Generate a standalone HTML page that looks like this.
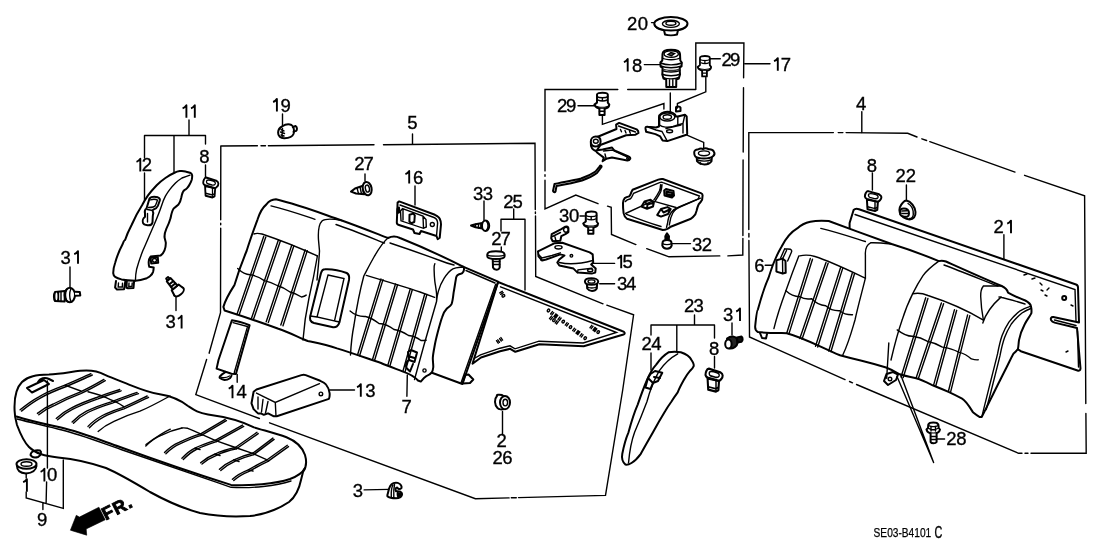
<!DOCTYPE html>
<html><head><meta charset="utf-8"><style>
html,body{margin:0;padding:0;background:#fff;width:1108px;height:553px;overflow:hidden}
svg{display:block;will-change:transform}
text{font-family:"Liberation Sans",sans-serif;font-size:18.5px;fill:#000;stroke:#000;stroke-width:0.35px}
.s{fill:none;stroke:#000;stroke-width:2;stroke-linejoin:round;stroke-linecap:round}
.t{fill:none;stroke:#000;stroke-width:1.4;stroke-linecap:round}
.one{fill:none;stroke:#000;stroke-width:1.9;stroke-linecap:butt;stroke-linejoin:round}
.f{fill:#fff;stroke:#000;stroke-width:2;stroke-linejoin:round}
</style></head><body>
<svg width="1108" height="553" viewBox="0 0 1108 553">
<defs>
<symbol id="clip8" overflow="visible">
<path class="f" d="M2,8.7 L2.6,18.5 L10.1,20.2 L12.4,19.1 L13,11 Z"/>
<path class="f" d="M0.9,2.3 C1.5,0.8 2.3,0.3 3.2,0.3 L14.2,3.5 C15.5,4.2 16.5,5 16.5,6.3 C16.5,7.8 16,8.6 15.3,9.2 C14.6,10 13.8,10.7 13,11 L2,8.1 C1,7.6 0.2,6.8 0,5.8 C0,4.5 0.3,3.3 0.9,2.3 Z"/>
<path class="t" d="M4,3.2 C5,2.4 7,2.6 11,3.8 C12.8,4.4 13.6,5.6 13,6.8 C12.4,7.9 11,8.1 9.5,7.8 L5,6.6 C3.6,6.1 3.2,4.2 4,3.2 Z"/>
<path class="t" d="M2.6,16 L10.2,17.8 L12.4,16.5 M10.1,11 L10.1,20.2"/>
</symbol>
<symbol id="bolt" overflow="visible">
<path class="f" d="M2.6,1.9 C2.6,0.4 5.3,0 8,0 C10.8,0 13.4,0.4 13.4,1.9 L13.4,9.9 L14.9,11.9 C14.8,14.4 11.8,16 8,16.2 C4.1,16 0.8,14.4 0,11.9 L2.6,9.9 Z"/>
<path class="t" d="M2.6,3.9 C4.8,5.4 11.3,5.4 13.4,3.9 M3.8,7.4 C6,8.6 10.5,8.6 12.3,7.4 M8,4.9 L8,7.9" stroke-width="1.3"/>
<path d="M0.6,12.2 C3,14.6 13,14.6 14.4,12.2 L14.6,13 C13,15.8 3,15.8 0.4,13 Z" style="fill:#000"/>
<path class="s" d="M5,16.1 L5,22.2 L10.2,22.2 L10.2,16.1" style="fill:#fff" stroke-width="1.8"/>
<path class="t" d="M5,18.6 L10.2,18.6" stroke-width="1.1"/>
</symbol>
</defs>
<!-- FRAMES (dash-dot) -->
<g class="t" id="frames">
<!-- frame 5 -->
<path d="M220.8,146 L257.4,145.8 M261,145.7 L265.5,145.7 M268.4,145.7 L374,144.8 M383.5,144.7 L535,143.3 L535.3,209.6 M535.4,212 L535.4,213.5 M535.5,216 L535.7,276.5 L603,303.8 M606.8,305.2 L633.6,314.8 L622.7,390 L605.5,495.4 L518.5,497.6 M516.3,497.7 L511.3,497.8 M509.1,497.9 L475.4,498.7 L269.6,422.8 M259.4,418.5 L195.8,394.6 L206.6,359.5 M209.1,353.2 L220.5,312.7 L220.7,228.3 M220.7,223.3 L220.7,224.8 M220.7,219.7 L220.8,146"/>
<!-- frame 17 -->
<path d="M695.8,89.5 L695.8,42.9 L743.9,43 L743.6,77.8 M743.5,87.7 L743.2,152 M743.1,160 L742.9,235.5 M742.9,238.5 L742.8,255 L727.9,255.9 M719.8,255.9 L669,256.8 L646.7,248.7 M635.9,244.6 L611.5,234.5 L611.2,207.3 L607.5,206.2 M598,203.7 L575.8,195 L545,208.8 L545,180.3 M545,176.3 L545,174.8 M545,170.9 L545,89.5 L617.8,89.5 M627.7,89.5 L695.8,89.5"/>
<!-- frame 4 -->
<path d="M748.8,229.6 L748.8,132.6 L833.4,132.6 M838.2,132.6 L842.9,132.6 M846.1,132.6 L907.7,133.3 L917,137 M921.9,138.8 L926.6,140.5 M929.8,141.6 L1015,172.1 M1024.6,175.3 L1084.6,195.8 L1085.8,403.6 M1085.9,413.4 L1086.2,453.3 L1031,453.3 M1028,453.3 L1025,453.3 M1022,453.3 L1018.6,453.3 L856.5,384.5 M852.5,382.8 L849.5,381.5 M845,379.6 L749.5,337 L748.9,240.5 M748.9,237 L748.9,233.5"/>
<!-- leader brackets -->
<path d="M189,120 L189,135.5 M144.5,135.5 L205.5,135.5 M144.5,135.5 L144.5,158 M144.5,173 L144.5,200 M174,135.5 L174,172.5 M205.5,135.5 L205.5,144 M205.5,165 L205.5,177"/>
<path d="M282.5,114 L282.5,126 M412.5,134 L412.5,144 M365,174 L365,181 M415,186 L415,205"/>
<path d="M70,267 L70,288 M176,297 L176,310.5"/>
<path d="M484,201 L484,220 M513.7,209 L513.7,219.2 M501,219.2 L525,219.2 M501,219.2 L501,231 M525,219.2 L525,290"/>
<path d="M593,263.4 L614.6,263.4 M599.7,283.7 L614.6,283.7 M671.5,243.6 L690.5,243.6"/>
<path d="M651.5,22.6 L654.2,22.6 M644.3,64.6 L660.6,64.6 M709.4,58.8 L720.3,58.8 M744.7,63.7 L770,63.7 M578,105.7 L594,105.7"/>
<path d="M861.8,111.6 L861.8,132.6 M872.4,173 L872.4,190 M906.4,185 L906.4,201.5 M1003.9,234.7 L1003.9,259.7 M765.2,265.3 L776.5,265.3"/>
<path d="M694.5,315 L694.5,325 M651,325 L714.5,325 M651,325 L651,335 M651,353 L651,370 M676.8,325 L676.8,351.5 M714.5,325 L714.5,338 M714.5,356.5 L714.5,368 M732,323 L732,335"/>
<path d="M407.3,375 L406.9,396.2 M502.5,411.4 L502.5,434.7 M329.6,390 L354.5,390 M364.1,489.9 L389,489.4 M936,439 L944.6,439"/>
<path d="M888.8,343 L933.6,462.5 M897,376.5 L933.6,462.5"/>
</g>
<!-- CUSHION 9 -->
<g id="cushion">
<path class="f" d="M14.6,410.7 C14,398 16,388 22,382 C28,376 36,375 49,374.6 C60,374 70,372 80,370.8 C88,370 98,371 104.5,374.6 C112,378 120,381 129,384.6 C140,389 150,393 161,394.6 C170,396 180,400 188,406 C194,410 198,413 208,414.4 C220,416 240,420 254,427.4 C262,430 275,433 286.5,437.2 C296,441 302,446 305,455 C307,462 306,468 303,472 L301,480 C299,490 294,498 289,502 C280,508 268,514 250,516 C235,517 215,516 200,513 C185,509 170,503 150,492 C135,483 120,474 106,468 C92,463 75,459 58,457.4 C45,456 36,454 29,447 C23,441 20,433 17,425 C15,418 14.6,414 14.6,410.7 Z"/>
<path class="s" d="M16.5,416.5 C30,421 45,424 61,427.6 C80,432 100,440 120,447 C150,458 190,472 231,484.9 C250,486 275,484 290,479 C298,476 303,472 305,468"/>
<path class="t" d="M17,419 C32,423 47,426 62,430 C82,435 102,443 121,449.5 C152,460 192,474 231,487.3 C252,488.5 276,486 291,481"/>
<g class="t" stroke-width="1.05">
<path d="M20.1,409.8 C26,405 32,400.5 38.9,396.8 C47,392 56,388.5 64.9,385.2 C74,381.5 82,377.5 90.9,373.7 M 21.5,411.1 C 27.4,406.3 33.4,401.8 40.3,398.1 C 48.4,393.3 57.4,389.8 66.3,386.5 C 75.4,382.8 83.4,378.8 92.3,375.0"/>
<path d="M37.4,413.4 C42,409.5 47,406.5 53.3,404 C62,399.5 70,396 79.3,392.4 C88,388.5 96,384 103.9,379.4 M 38.8,414.7 C 43.4,410.8 48.4,407.8 54.7,405.3 C 63.4,400.8 71.4,397.3 80.7,393.7 C 89.4,389.8 97.4,385.3 105.3,380.7"/>
<path d="M56.2,418.4 C60.5,414.5 65,411 70.6,408.3 C79,404 88,400.5 96.6,397.5 C104,394.5 112,392 119.7,389.5 M 57.6,419.7 C 61.9,415.8 66.4,412.3 72.0,409.6 C 80.4,405.3 89.4,401.8 98.0,398.8 C 105.4,395.8 113.4,393.3 121.1,390.8"/>
<path d="M72.1,422 C76,418 81,414 86.5,411.2 C94,407.5 102,404.5 111.1,401.8 C120,398.5 128,395.5 137.1,392.4 M 73.5,423.3 C 77.4,419.3 82.4,415.3 87.9,412.5 C 95.4,408.8 103.4,405.8 112.5,403.1 C 121.4,399.8 129.4,396.8 138.5,393.7"/>
<path d="M88,426.4 C92,422 97,418.5 102.4,415.5 C109,412 116,409.8 122.6,407.6 C131,404 139,400 147.2,396 M 89.4,427.7 C 93.4,423.3 98.4,419.8 103.8,416.8 C 110.4,413.3 117.4,411.1 124.0,408.9 C 132.4,405.3 140.4,401.3 148.6,397.3"/>
<path d="M164.5,452.5 C169,448 174,444.5 179,442.4 C186,439 193,436 200.6,433.8 M 165.9,453.8 C 170.4,449.3 175.4,445.8 180.4,443.7 C 187.4,440.3 194.4,437.3 202.0,435.1"/>
<path d="M181.9,458.3 C186,454 190,450.5 194.9,448.2 C201,445 208,442.5 215.1,440.3 M 183.3,459.6 C 187.4,455.3 191.4,451.8 196.3,449.5 C 202.4,446.3 209.4,443.8 216.5,441.6"/>
<path d="M200.6,462.7 C205,459 210,456 215.1,454 C221,451 228,449 235.3,447.5 M 202.0,464.0 C 206.4,460.3 211.4,457.3 216.5,455.3 C 222.4,452.3 229.4,450.3 236.7,448.8"/>
<path d="M219.4,469.2 C224,465 229,462 233.9,459.8 C240,457 246,455 252.6,453.3 M 220.8,470.5 C 225.4,466.3 230.4,463.3 235.3,461.1 C 241.4,458.3 247.4,456.3 254.0,454.6"/>
<path d="M232.4,479.3 C237,475 243,472 248.3,469.9 C254,466.5 260,463 267.1,459.8 M 233.8,480.6 C 238.4,476.3 244.4,473.3 249.7,471.2 C 255.4,467.8 261.4,464.3 268.5,461.1"/>
<path d="M200.6,433.8 L225.2,419.3 M201.8,435.1 L226.4,420.6 M215.1,440.3 L242.5,425.1 M216.3,441.6 L243.7,426.4 M235.3,447.5 L257.0,432.3 M236.5,448.8 L258.2,433.6 M252.6,453.3 L272.9,438.1 M253.8,454.6 L274.1,439.4 M267.1,459.8 L287.3,445.3 M268.3,461.1 L288.5,446.6"/>
<path d="M98.1,431.4 C103,427 108,424 114,421.3 C122,417.5 131,414 140,411.2 C150,407 160,401.5 170,396"/>
<path d="M145.8,446 C152,440 157,437 161.7,435.2 C168,432 175,429.5 181.9,428"/>
<path d="M232.8,479.5 M146,444.5 C155,438 162,433 170.3,429.2"/>
<path d="M64.9,385.2 L80.8,391 M88,391.7 C93,393 98,394.5 102.4,396 C108,398.5 114,401 119.7,404 L124.1,406.9 M181.9,428 C184,427.8 186,428 187.7,428.3 C192,430 196,432 200.6,433.8 L215.1,440.3 L235.3,447.5 L252.6,453.3 L267.1,459.8 M194.9,448.2 L200,449.5 M215.1,454 L220,455.5 M233.9,459.8 L239,461.5 M248.3,469.9 L253,471"/>
</g>
<!-- tag on cushion -->
<path class="s" d="M27,388 L44,380 L49,384 L32,392.5 Z M38,382 C40,378 45,377 49,379 L53,381"/>
<!-- small clip + grommet 1 -->
<path class="s" d="M30.5,455 C31,451 36,449.5 40,450.5 C42,452 41,455.5 38,457 C35,458 32,457.5 30.5,455 Z"/>
<ellipse class="s" cx="26.5" cy="464" rx="10" ry="4.8"/>
<ellipse class="t" cx="26.5" cy="464" rx="5.5" ry="2.3"/>
<path class="s" d="M17,466 C17,470 20,473 26,473.5 C32,473 36,470 36.5,466"/>
<!-- bracket 1/10/9 -->
<path class="t" d="M26.2,473.5 L26.2,478 M26.2,492 L26.2,497.9 L63.3,508.4 L63.3,459.9 M47.4,381 L47.4,468 M46.6,482 L46.1,503.3 M42.9,503.3 L42.9,509.6"/>
<!-- FR arrow -->
<path d="M98.9,507.2 L105.2,519.8 L86.2,528.9 L86.7,535.2 L70.4,530.2 L76.3,515.3 L79.4,517.1 Z" fill="#000" stroke="#000" stroke-width="0.6" stroke-linejoin="round"/>
<text x="0" y="0" transform="translate(105.8,520.6) rotate(-27)" style="font-weight:bold;font-size:18px;fill:#000;stroke:#000;stroke-width:0.9px;letter-spacing:1px">FR.</text>
</g>
<!-- LEFT ARMREST 12 etc -->
<g id="leftparts">
<path class="f" d="M174,173 C176,172 178,171.3 179.8,171.1 C182,170.9 184,171 185.6,171.5 C187.5,172 189.5,172.5 190.7,173 C191.6,173.6 192,174.3 192.1,175.1 C192.3,176.6 192.1,178 191.8,179.5 C191.4,181 190.8,182.5 190,183.8 C189.2,185.5 188.2,187 187.1,188.1 C186,189.2 185,189.8 184.2,190.3 C183.5,191 183,191.7 182.7,192.5 C182,194 181.6,195.8 181.3,197.5 C180.8,200 180,202.5 178.5,204.5 C177,206 175,207 173.5,208.7 C172,211 171.2,214.5 170.6,218.1 C169.6,221.8 168,225.5 166.3,228.9 C165,232 164.4,235 164.5,237 C164.8,239 165.6,241 165.8,242.7 C165.9,245.5 165.4,248 164.5,250.3 C163.6,252.5 162.3,254.2 160.7,255.4 L150.6,256.6 C149.5,258 148.8,260 148.7,261.7 C148.6,264 148.8,265.5 149.3,266.8 L153.7,267.4 C153.6,269.5 153.5,270.5 153.1,271.8 C152.5,273.5 151.8,274.5 150.6,275.6 C149.5,276.8 148.2,277.6 146.8,278.2 C143,279.5 139,280.5 135.4,280.7 C131,280.6 126,280.3 121.5,279.4 C119,278.8 116.8,278 115.1,276.9 C114,275.8 113.3,274.5 113.2,273.1 C113.3,269 114,266 115.1,263 C117,256 119.5,250 122.7,244 C123.8,241 124.5,240 125.1,240 C127,234 129.5,229 131.6,225 C135,217 139,210 142.2,205 C144,201.5 146,198.3 148,195.4 C150.5,192 153.5,188.5 156.7,185.2 C159.5,182.5 162.5,180 165.4,178 C168.2,176 171,174.3 174,173 Z"/>
<path class="t" d="M190,175.1 C187,176 184.5,177 182,178 C179.5,179.5 177.5,181.2 175.5,183.1 C173.5,185.2 171.5,187.3 169.7,189.6 C168,191.8 166.6,194 165.4,196.1 C164,198.8 162.8,201.8 161.8,205 C159.5,212 156.8,218.5 154,225 C151.8,230 149.6,235 147.5,240 C146,243.5 144.5,247 143,250.3 C140.5,256.5 138.4,262.8 136.6,269.3 C135.8,272.8 135.5,276 135.4,280.7"/>
<path class="s" d="M150.6,257.8 L157.8,257.3 L158.2,262.8 L151.2,263.4 Z" stroke-width="1.3"/>
<ellipse class="t" cx="154.5" cy="260.3" rx="2" ry="1.8"/>
<path class="s" d="M149.5,198.5 C151,196.8 154,196.5 157.8,197.3 C159.5,198 160.2,199 159.8,200.5 L157.8,206 C157,208 155.5,209 153.5,209.4 L152.5,210.5 C153.5,212 153.5,214 152.8,216 L152.5,222.5 C152,224.8 150,225.6 147.5,225.3 C145,225 143.5,224.5 143,223 C142.3,221 143,218 145,216.8 L145,213.5 C144.5,211.5 145,209.5 146.5,208.5 Z" stroke-width="1.4"/>
<path class="t" d="M150.5,199.8 C153,199 156,199.2 157.5,200.2 L155.5,205.5 C154.5,207 152,207.5 148.5,207.5 M147.3,209.5 L151.5,210.3 M147.5,213.5 L147.5,222"/>
<path class="s" d="M116,281 L115.1,287.5 L117,289.6 L124,289.3 L125.3,281.5 M126.8,281 L126.5,287.8 L128,288.3 L133.5,288 L134.1,281" stroke-width="1.4"/>
<path class="t" d="M118.5,283 L118.2,287 L122.3,287 L122.5,283.2 M129,283 L128.8,286.5 L132,286.3 L132.2,283"/>
<!-- clip 8 left -->
<use href="#clip8" transform="translate(203.2,177.2) scale(0.92,1.0)"/>
<!-- bolt 31 left -->
<path class="s" d="M55,292 C53.6,294 53.6,299.5 55,301 L64.7,301.5 L64.7,291 Z" style="fill:#fff"/>
<ellipse class="t" cx="56.5" cy="296.3" rx="1.8" ry="4.6" style="fill:#fff"/>
<path class="t" d="M58.5,292 L58.5,301 M61,291.5 L61,301.5"/>
<ellipse class="s" cx="69.8" cy="295" rx="5.2" ry="7.2" style="fill:#fff"/>
<path class="t" d="M67,289 C65,292 65,298 67,301.5 M71,288.5 C69.5,292 69.5,298 71,302"/>
<path class="s" d="M75,291.8 L79.8,292 L80.3,295.5 L75,295.7" style="fill:#fff"/>
<!-- bolt 31 mid -->
<g transform="translate(179,292) rotate(-130)">
<ellipse class="s" cx="0" cy="0" rx="3" ry="5.8" style="fill:#fff"/>
<path class="s" d="M0,-5.8 L6,-4.5 L6,4.5 L0,5.8" style="fill:#fff"/>
<path class="s" d="M6,-3 L16,-2.5 L16,2.5 L6,3 Z M9,-3 L9,3 M12,-2.8 L12,2.8 M16,-1.5 L18.5,-1.2 L18.5,1.2 L16,1.5" style="fill:#fff"/>
</g>
<!-- bolt 19 -->
<path class="s" d="M282,126.5 C285,124.5 289,124 291.5,125 C294,126.5 294.5,131 293.5,134 C292.5,136.5 289,138 284.5,138.3 C280.5,138.5 278,136 278.1,132.5 C278.2,129.5 279.5,127.8 282,126.5 Z" style="fill:#fff"/>
<path class="s" d="M292.8,127.2 L295.6,126 C297.2,127 297.4,129.7 296.1,130.9 L293.6,131.6" stroke-width="1.4"/>
<path class="t" d="M281,129.5 L284,131 M280.5,132 L284.5,133.5 M281,135 L284,136 M282.5,128.5 L282,137" stroke-width="0.9"/>
<!-- screw 27 top -->
<path class="s" d="M364.4,185.2 L355,188.5 L351,191.6 L356,193.5 L364.4,194.2 Z" style="fill:#fff" stroke-width="1.4"/>
<path class="t" d="M357,187.8 L358.5,193.6 M360,186.8 L361.5,194 M362.5,186 L363.5,194.2" stroke-width="1"/>
<ellipse class="s" cx="367.2" cy="188.6" rx="4.4" ry="6.8" transform="rotate(-12 367.2 188.6)" style="fill:#fff"/>
<ellipse class="t" cx="367.4" cy="188.6" rx="2" ry="3.6" transform="rotate(-12 367.4 188.6)"/>
<!-- bracket 16 -->
<path class="s" d="M397.6,202.6 L399.2,201.4 L434.9,214.8 C437.5,216 439.2,217.3 439.7,218.8 C440.8,221 441.1,222.8 441,224.3 L439.7,237.8 L437.7,239.2 L436.5,236 L421,231 L419.5,234 L414.5,233 L413,229.5 L399,225 C397.5,224.6 396.8,223.8 396.8,222.5 Z" style="fill:#fff"/>
<path class="t" d="M400,205 L434,217.5 C436.5,218.5 437.5,220.5 437.6,223 L436.6,235"/>
<path class="t" d="M400.5,211 L402.5,208.6 L423,216.2 L426,219.5 L426.3,227 L423.5,228.3 L401,220.8 Z M403,209.5 L403,220 M423,216.2 L423.5,228.3"/>
<path class="s" d="M409.5,214.8 L413.3,213.6 L414.8,215.3 L414.3,222 L411.3,223.2 L409.4,221.4 Z" stroke-width="1.3"/>
<circle class="t" cx="432.3" cy="224.5" r="2"/>
<path class="s" d="M397.5,209 L399,207.5 L399.5,212 L397.5,213 Z" stroke-width="1.2" style="fill:#000"/>
</g>
<!-- SEAT BACK 5 -->
<g id="seatback5">
<!-- side board + triangle panel -->
<path class="f" d="M498.1,282 L622,331 C625,332 625.5,333.5 623.5,334.5 L583.7,346.3 L539.3,344.2 L515.3,351.8 L510.2,348.8 L500.1,351.2 L481,357.5 L472.5,363.7 Z"/>
<path class="t" d="M500.5,286.8 L616.5,332.5 L583.2,343 L539,341.2 L515,348.8 L510,345.8 L500,348.2 L480.5,354.8 L475,358"/>
<path class="f" d="M463,266.6 L498.1,281.6 L462.4,384 L432.6,373 L430,371 L434,340 L440,305 L450,278 Z"/>
<path class="t" d="M466,270.5 L495,283 M495.6,284.5 L461,383"/>
<path class="s" d="M465,375 L462.5,383.5 L470,383 L473.3,379.5 L468.5,374.5 Z"/>
<g class="t" stroke-width="0.75">
<ellipse cx="548.5" cy="310.5" rx="1.1" ry="1.5" transform="rotate(37 548.5 310.5)"/>
<path d="M552.4,311.6 L550.6,314.0"/>
<path d="M553.7,312.6 L551.9,314.9"/>
<rect x="554.7" y="314.4" width="2.2" height="3.2" transform="rotate(37 555.8 316.0)" style="fill:#000"/>
<path d="M559.8,317.1 L558.0,319.5"/>
<path d="M561.1,318.1 L559.3,320.5"/>
<ellipse cx="563.2" cy="321.6" rx="1.1" ry="1.5" transform="rotate(37 563.2 321.6)"/>
<path d="M567.1,322.7 L565.3,325.1"/>
<path d="M568.4,323.6 L566.6,326.0"/>
<ellipse cx="570.5" cy="327.1" rx="1.1" ry="1.5" transform="rotate(37 570.5 327.1)"/>
<path d="M574.5,328.2 L572.7,330.6"/>
<path d="M575.8,329.2 L574.0,331.6"/>
<rect x="576.8" y="331.0" width="2.2" height="3.2" transform="rotate(37 577.9 332.6)" style="fill:#000"/>
<path d="M581.8,333.7 L580.0,336.1"/>
<path d="M583.1,334.7 L581.3,337.1"/>
<ellipse cx="585.2" cy="338.2" rx="1.1" ry="1.5" transform="rotate(37 585.2 338.2)"/>
<path d="M551.3,316.3 L549.5,318.7"/>
<path d="M552.5,317.3 L550.7,319.7"/>
<ellipse cx="553.9" cy="320.2" rx="1.1" ry="1.5" transform="rotate(37 553.9 320.2)"/>
<path d="M557.0,320.7 L555.2,323.0"/>
<path d="M558.3,321.6 L556.5,324.0"/>
<path d="M591.8,325.3 L590.0,327.7"/>
<path d="M593.0,326.3 L591.2,328.7"/>
<rect x="593.8" y="327.9" width="2.2" height="3.2" transform="rotate(37 594.9 329.5)" style="fill:#000"/>
<ellipse cx="598.2" cy="332.1" rx="1.1" ry="1.5" transform="rotate(37 598.2 332.1)"/>
<path d="M502.3,291.3 L499.8,292.9"/>
<path d="M503.2,292.7 L500.7,294.3"/>
<ellipse cx="503.4" cy="295.8" rx="1.1" ry="1.5" transform="rotate(58 503.4 295.8)"/>
<path d="M496.5,340.7 L498.2,343.2"/>
<path d="M497.8,339.8 L499.5,342.3"/>
<path d="M499.6,338.6 L501.3,341.0"/>
<path d="M500.9,337.6 L502.6,340.1"/>
</g>
<!-- main seat back outline -->
<path class="f" d="M275.9,199.3 C300,205 320,213 341.8,220.5 C360,227 375,233 388,238 C392,236 396,236 400,238 C420,246 440,255 463,266.6 C464.5,267.5 464.5,271 462.3,273.1 C461,274 459.5,274 458.7,274.5 C457,275 456,277 455.8,279.6 C455,284 454.5,288 453.6,292.6 C453,298 452.5,302 451.5,304.2 C450,306.5 448,307.5 446.5,309 C444.5,311 443,314 442,317.5 C440.5,322 439,327.5 437.8,332 C436.5,337 435.5,341 434.8,345 C434,349.5 433,354 432.8,358 C432.8,361 433.3,364 433.3,367 C433,370 432.5,371.5 431.7,372.5 C430,374.5 428,375.5 426.3,376.2 C424,377.5 422.5,379.5 420.8,381.6 L418,380.5 C415,377 410,374 403,371.6 C395,368.5 388,366 381,363 C366,358 352,353 337,348.4 C327,345 317,343 307.7,341 C298,337 288,332 278.4,328.8 C260,322 242,316 224.6,310.5 L223.4,306.9 C226,298 230,292 234.4,285.2 C238,273 242,262 246.6,251 C250,240 254,229 257.6,219.3 C260,212 262,208 266.2,204.6 C269,201 272,199.5 275.9,199.3 Z"/>
<!-- left seat inner lines -->
<path class="t" d="M271,205.9 C288,210 302,215 315,219.3"/>
<path class="t" d="M341.8,220.5 C334,219 326,218 322,221 C318,225 318,232 318.5,240 L319.5,251 C319,260 318,270 317,280"/>
<path class="t" d="M254,234 C256,233 258,233 262,234 C280,240 300,248 317.4,256"/>
<path class="t" stroke-width="1" d="M237.7,268.5 Q244,274.5 250.2,274.8 Q258,276 264.3,280.6 Q271,282 277.2,285.5 Q284,287.5 290,292 Q296,293.5 301.5,297 Q304.5,296.5 306.2,295.1"/>
<path class="t" stroke-width="0.95" d="M263.7,236.4 L236.9,314.5 M265.8,237 L239,315.2 M278.4,240 L251.5,318.2 M280.5,240.7 L253.6,319 M291.8,245 L266.2,321.8 M293.9,245.8 L268.3,322.6 M305.2,249.8 L280.8,325 M307.3,250.6 L283,325.8"/>
<path class="t" d="M317.4,256 C315,270 312,285 309,298 C306,312 304,326 303,340"/>
<path class="t" d="M336,224.5 C352,230 368,236.5 384.5,243"/>
<!-- armrest recess -->
<path class="s" d="M324.7,269.3 C330,269 340,270.5 346.7,273 C349.5,274.5 349.5,277 349,280 L339.5,322 C338.5,326 336,328 332,327 L314,323 C310,322 309.5,319 310.3,316 L321,273 C321.8,270.5 323,269.3 324.7,269.3 Z"/>
<path class="t" d="M328,275 L344,278.5 L334.5,321 L317,317 Z M310.3,316 L317,317 M339.5,322 L334.5,321"/>
<!-- right seat -->
<path class="t" d="M388,238 C383,242 378,250 374,257 C370,264 367,270 363.8,276 C360,290 357,305 354,325 C352,335 351,345 350.5,355"/>
<path class="t" d="M390,243 C408,249 425,255 440,260.5 C446,263 450,264 454,265"/>
<path class="t" d="M366.25,275.4 C385,281 405,287 420,292 L434.6,297.4"/>
<path class="t" d="M463,267 C459,267.5 456,267.5 452.9,268.8 C449,271 446.5,274.5 444.2,278.2 C441.5,282.5 439.5,287 438.4,291.1 C437.3,295 436.8,298 436.6,301.3 L424,345 L414.5,379.5 M434.8,263.7 C434,265.5 433.9,267.5 434.1,269.5 C434.2,273 434.3,277 434.8,281.1 C435.4,285.5 436.3,290 436.6,294.1 L436.6,301.3"/>
<path class="t" stroke-width="0.95" d="M380.9,279 L357.5,355 M383,279.6 L359.6,355.8 M395.5,284 L372.5,359.5 M397.6,284.7 L374.6,360.2 M410.2,289 L388,364.6 M412.3,289.7 L390.1,365.3 M424.8,293.8 L403,371 M426.9,294.5 L405.1,371.7"/>
<path class="t" stroke-width="1" d="M350.1,311 Q357,317 365.5,316.5 Q372,318 379,323.5 Q387,324 394,329.5 Q401,330.5 408.5,335.5 Q415,336 421,340.5 Q424,340.5 426.2,340.2"/>

<!-- clip 7 -->
<path class="s" d="M408,352 L411,350 L417,352.5 L414.5,362 L409,360 Z M409,360 C406,361 405.5,365 406.5,368 L410,371.5 L413,364 M408,356 L414.5,358"/>
<circle class="t" cx="424.5" cy="370.5" r="1.6"/>
<!-- panel 14 -->
<path class="s" d="M231.9,320.3 C238,321 244,323 249.6,325.3 L235.9,374 L231.5,373.7 L225.6,371.8 L216.6,368.6 L218.5,360 Z"/>
<path class="t" d="M233,322.6 L247.5,326.6 L234.3,372.5" stroke-width="1.1"/>
<path class="s" d="M225.6,371.8 C223,373.5 221,375 220.1,376.2 C219.5,377 219.4,377.5 219.6,377.8 C221,379 222.5,379.7 224.5,380 C226.5,380 228.5,379.3 229.9,378.3 C230.8,377.3 231.3,376.5 231.5,375.6" stroke-width="1.7"/>
<path class="t" d="M221.5,377.3 C224,378 227,377.5 229.5,376" stroke-width="0.9"/>
<path class="t" d="M237.2,374.5 L237.2,382.3"/>
<!-- box 13 -->
<path class="f" d="M253.6,391.7 L256.5,389.5 L301.4,375.1 C303,374.7 304.5,374.7 305.7,375.1 L320.2,380.8 C323,382 325,383 326,384.5 C328,387 329.3,390 329.6,393.1 C329.8,395.5 329.6,397.5 328.9,398.9 L276.8,416.3 L273.9,416.3 L268.1,413.4 L263.8,414.8 L260.9,413.4 L258,413.4 L253.6,409.1 L251.5,403.3 Z"/>
<path class="t" d="M256.5,393.1 L275.3,402.5 L319.5,383.7 M275.3,402.5 L276,416.3 M258,397 L258,409 M263,399.5 L261.5,412 M268,401.5 L265.5,413"/>
<circle class="t" cx="320.9" cy="393.9" r="1.8"/>
</g>
<!-- CENTER PARTS -->
<g id="center">
<!-- washer 20 -->
<path class="s" d="M664,30 L665,34.5 C668,35.5 674,35.5 677,34.5 L678,30"/>
<ellipse class="f" cx="670.9" cy="23.8" rx="16.6" ry="6.8"/>
<ellipse class="t" cx="670.9" cy="23.8" rx="8.5" ry="3.6"/>
<ellipse class="t" cx="670.9" cy="23.3" rx="5" ry="2"/>
<path class="t" d="M654.5,24.5 C655,27 658,29.5 664,30.5 M687.2,24.5 C687,27 684,29.5 678,30.5"/>
<!-- part 18 -->
<path class="f" d="M662.5,54 C662.5,51 666,49.8 671,49.8 C676,49.8 680,51 680,54 L680.3,60.5 L681.8,62.5 L681.5,66.5 L679.8,67.5 L679.8,71 L680,74.5 L678.8,78.5 L676.3,79.5 L676.2,87 L666.3,87 L666.2,79.5 L663.5,78.5 L662.3,74.5 L662.5,71 L662.5,67.5 L660.6,66.5 L660.4,62.5 L662.3,60.5 Z"/>
<ellipse class="t" cx="671.2" cy="54" rx="7.2" ry="3.3" stroke-width="1.3"/>
<path class="t" d="M668,54.5 L671,52.5 L674.5,53.5 L671.5,55.8 Z" stroke-width="1.2" style="fill:#555"/>
<path class="t" d="M662.4,58 C666,60.3 676,60.3 680.1,58 M660.6,63 C666,65.5 676,65.5 681.7,63 M660.8,66 C666,68.3 676,68.3 681.5,66 M662.5,70.5 C666,72.5 676,72.5 679.8,70.5 M662.4,74.2 C666,76.2 676,76.2 680,74.2 M663.5,77.5 C667,79.3 675,79.3 678.8,77.5 M669.5,79.5 L669.5,87 M672.8,79.5 L672.8,87" stroke-width="1.3"/>
<path d="M663,68.5 C667,70.3 675,70.3 679.5,68.5 L679.5,70 C675,71.6 667,71.6 663,70 Z" style="fill:#333"/>
<!-- bolt 29 top -->
<use href="#bolt" transform="translate(697.6,56) scale(0.91,0.92)"/>
<!-- bolt 29 left -->
<use href="#bolt" transform="translate(594.4,92.7) scale(1.0,1.0)"/>
<!-- leader lines inside 17 -->
<path class="t" d="M705.8,77.5 L705.8,91.8 L677.4,103.5 L677.4,108 M670.3,93 L670.3,112.5 M602.4,115.3 L602.4,124.3 L663.9,103.5 L663.9,109 M684.7,134.2 L703.7,142.4 L703.7,150.5"/>
<!-- lock body -->
<path class="f" d="M645.5,128.5 C645.3,127 646.5,126.5 648,126.8 L656,127.5 L659,126.5 L659,117 C659,114 663,111.8 667.3,111.8 C671.5,111.8 675.5,113.5 676,116.5 L677.8,116.5 L684.9,114.7 L686.7,116.5 L687.2,134.1 L684.9,135.3 L667.3,141.1 L662.6,140.5 L660.2,136.4 L655.5,134.1 L646.1,131.7 Z"/>
<ellipse class="t" cx="667.3" cy="117" rx="7.5" ry="4"/>
<ellipse class="t" cx="667.3" cy="117" rx="4.2" ry="2.2"/>
<path class="t" d="M659.6,117.5 L659.6,125 C662,127.5 668,127.8 673,126.5 L677.8,125 L677.8,116.5 M677.8,125 L683,123.5 L684.9,114.7 M683,123.5 L683,133 M648,127 L656,130 L662,131.5 M662,131.5 L667.3,141.1 M666,128.5 L681,125"/>
<ellipse class="t" cx="669.6" cy="131.3" rx="3" ry="1.5"/>
<path class="s" d="M676,107.5 C676,106 680,106 680.5,107.5 L680.5,111 L676,111.5 Z"/>
<!-- lever -->
<path class="f" d="M595.6,150.5 L602.6,149.4 L612,147.5 L614.4,150.5 L628.5,156.4 C630,157 630.6,158 630.2,158.8 C629.6,160 628.5,160.6 627.3,160.5 L612,157.6 L606.2,158.8 L602.6,161.1 L603.8,157.6 L597,152.5 Z"/>
<path class="t" d="M603.5,151 L612.5,150 L627,156.8 M605,154 L606.2,158.8"/>
<circle class="t" cx="627.6" cy="158.3" r="0.9"/>
<path class="f" d="M596,137.5 L616.5,129 L616.1,124.7 L619.1,122.9 L636.7,129.4 C638,130.3 638.6,131.6 638.5,132.9 L635.5,134.7 L626.1,135.3 L599,145.5 Z"/>
<path class="t" d="M618.5,126 L635.5,132 M620.5,129.5 L621.5,131.8 M625,130.5 L626,133 M629.5,131 L630.3,133.3"/>
<path class="f" d="M590.8,141.5 C590.8,138.5 593,136.6 595.8,136.6 C598.6,136.6 600.6,138.5 600.6,141.5 C600.6,144.5 598.6,146.6 595.8,146.6 C593,146.6 590.8,144.5 590.8,141.5 Z M590.8,141.5 L591,146 C592,149 594,150.8 596.5,150.8 L600.5,145"/>
<ellipse class="t" cx="595.8" cy="141.3" rx="2.4" ry="2"/>
<!-- nut (hex) -->
<path class="f" d="M696.5,155.5 L697,161.2 C699,163.6 702,164.4 704.5,164.4 C707.5,164.4 710,163.6 711.5,161.2 L712,155.5 Z"/>
<path class="f" d="M694.2,152.8 C694,150.5 696,149.3 698,149.5 C699.5,148.6 701.5,148.4 703,149 C704.5,148.2 707,148.3 708.5,149.2 C710.5,149 713,150 713.8,151.5 C714.8,153 714.5,155 713,156.2 C711,157.8 707,158.5 704,158.5 C700.5,158.5 697,157.8 695.3,156.5 C694.5,155.5 694.2,154 694.2,152.8 Z"/>
<ellipse class="t" cx="704" cy="153.3" rx="5.6" ry="2.4" stroke-width="1.3"/>
<path class="t" d="M697.5,159.8 C700,161.5 708.5,161.5 711,159.8 M700.5,162.8 L700.5,164 M708,162.8 L708,164" stroke-width="1.2"/>
<!-- rod -->
<path class="s" d="M553,191 L554.5,184 C565,181.5 575,180 581,178.5 C587,176.5 592,174 595.5,171.5 L599.5,166.5 C600.5,165 602,165.5 601.5,167 L597,173 C593,176 588,178.5 582,180.5 C575,182.5 565,184.5 556.5,186 L555.5,191.5 C555,192.5 553.5,192.5 553,191 Z"/>
<!-- tray -->
<path class="f" d="M631.4,191.9 L632.6,189.7 L658.3,179.6 C660,179 661.5,178.8 662.8,179 L700.9,193.1 C702,193.6 702.6,194.3 702.6,195.3 L702.1,199.8 C701.2,201.5 700,203 698.7,204.3 C697.6,206.5 697,209 696.5,211 L695.3,214.3 C694,216 692.5,217.6 690.9,218.8 L670.7,226.7 C669.5,227.5 668.4,228.3 667.3,228.9 C665.8,229.6 664.3,230 662.8,230 L627,218.8 C625.2,217.5 624,215.5 623.6,213.2 C623.2,209.8 622.9,206.5 623,203.1 C623.1,201 623.7,199.3 624.7,198.1 C626,197.3 627.6,196.8 629.2,196.4 C630.3,195 631,193.5 631.4,191.9 Z"/>
<path class="t" d="M625.3,201.5 C626.5,200 628.5,199.3 630.5,198.8 C631.8,197.3 632.5,195.5 633.6,193.3 L659.5,182.6 C661,182.2 662,182.2 663,182.6 L699.3,196 L698.4,198.8 L679,207 C675.5,208.3 673,210 671.2,212.5 C669,215.5 668,219.5 667.5,223.5 L666.5,227.2" stroke-width="1.05"/>
<path class="t" d="M700.5,198.2 L681,206.5 C677,208 674.5,210 672.8,213 C670.8,216.5 669.8,220.5 669.3,225" stroke-width="1.05"/>
<path class="t" d="M625.5,213.5 L652.7,200.9 L676,207.5 M626.5,214.3 C636,218 648,222.5 661,226.5" stroke-width="1.05"/>
<path class="t" d="M660.6,184.6 C660.5,187 660.2,189 659.5,190.8 C658,194 656,197 653.9,199.8 M662,184.8 C661.9,187.5 661.4,189.8 660.8,191.5 C659.5,194.5 657.5,197.5 655.5,200.5" stroke-width="0.95"/>
<path class="s" d="M641.5,206.5 L644.5,201.5 L650.5,199.8 L653.9,202.5 L653,206.5 L647,208.7 Z M644.5,201.5 L647.5,204.5 L653.9,202.5 M647.5,204.5 L647,208.7" stroke-width="1.3"/>
<path class="s" d="M657.2,215 L661,209 L667.5,207.1 L670.7,209 L668,214 L661,216.6 Z M661,209 L663.5,212.5 L670.7,209" stroke-width="1.3"/>
<path class="s" d="M664.2,190.5 L666,189 L673.5,191 L674,195.5 L672,197.5 L664.5,195.5 Z M666.5,191.5 L672,193 L672,195.5 L666.5,194 Z" stroke-width="1.2"/>
<!-- bolt 30 -->
<use href="#bolt" transform="translate(583.2,211.6)"/>
<path class="t" d="M580,216 L584.5,216"/>
<!-- bracket 15 -->
<path class="f" d="M538,251.4 L554.2,243.3 L562.3,242.8 L589.7,252.4 L592.7,254.4 L593.2,262.5 L591.2,264.5 L595.7,268.6 L595.2,272.6 L591.7,273.6 L577.5,272.6 L573.5,268.6 L559.3,265.5 L557.3,262.5 L559.3,259.5 L564.4,255.4 L560.3,254.4 L552.2,257.4 L546.1,259.5 L542.1,260.5 L538.5,256.4 Z"/>
<path class="t" d="M538.5,254.5 L542,258 L552,255.5 L560.3,252.8 M559.3,262.5 C568,264.5 580,264 592.7,260.5 M577.5,272.6 L578,269.8 L592,268.2 M541,260.3 L541,257.8" stroke-width="1.1"/>
<ellipse class="t" cx="558.5" cy="247.3" rx="3.6" ry="1.7"/>
<circle class="t" cx="571.4" cy="255.8" r="1.3"/>
<ellipse class="t" cx="590.2" cy="270.3" rx="2.6" ry="1.5"/>
<path class="f" d="M551.7,234.1 L561.3,229.1 L565.4,226.6 C567,226 568,226.8 568.4,228.1 L568.4,232.1 L565.4,234.1 L561.3,236.2 L560.3,240.7 L552.7,241.2 L551.2,238.2 Z" stroke-width="1.7"/>
<circle class="t" cx="566" cy="229.8" r="2.4"/>
<path class="t" d="M552.5,236.5 L560.5,232.5 M555,237 L556,241" stroke-width="1"/>
<!-- nut 34 -->
<path class="f" d="M586.8,283 L587.2,288.5 C588.5,290.3 590.3,291 592,291 C594,291 595.8,290.3 596.8,288.5 L597.2,283 Z"/>
<path class="f" d="M584.9,281.6 C584.9,279.5 588,278.2 591.5,278.2 C595,278.2 598.2,279.5 598.2,281.6 C598.2,283.6 595,284.8 591.5,284.8 C588,284.8 584.9,283.6 584.9,281.6 Z"/>
<ellipse class="t" cx="591.5" cy="281.5" rx="3.5" ry="1.6" stroke-width="1.2"/>
<path class="t" d="M587.5,287 C589.5,288.3 594,288.3 596.5,287" stroke-width="1.1"/>
<!-- screw 33 -->
<path class="s" d="M482.4,223.1 L475.5,224.2 L471,225.5 L475.5,227.2 L482.4,228.6 Z" style="fill:#fff" stroke-width="1.4"/>
<path class="t" d="M475.5,224.2 L475.5,227.2 M478.5,223.7 L478.5,228 M480.8,223.4 L480.8,228.3" stroke-width="1"/>
<ellipse class="s" cx="485.6" cy="225.8" rx="3.6" ry="5.3" style="fill:#fff"/>
<path class="t" d="M486.5,221.5 C488.5,223 488.5,228.5 486.5,230"/>
<!-- clip 27 (lower) -->
<path class="s" d="M492.7,258.4 L493,267.5 C494.5,270.5 498.5,270.5 499.7,267.5 L499.7,258.4" style="fill:#fff"/>
<path class="t" d="M493,261.5 L499.7,261.5 M493,264.5 L499.7,264.5" stroke-width="1"/>
<path class="s" d="M487.3,254.5 C487.3,252.2 491,251.2 495.9,251.2 C500.8,251.2 504.6,252.2 504.6,254.5 L504.6,256.2 C504.6,258 500.8,259 495.9,259 C491,259 487.3,258 487.3,256.2 Z" style="fill:#fff"/>
<path class="t" d="M487.5,255 C489,256.5 502.5,256.5 504.3,255" stroke-width="1"/>
<path class="t" d="M501.3,247 L501.3,251.3"/>
<!-- part 32 -->
<path class="s" d="M667,233.3 L665.3,236.2 L665.5,240 L668.8,240 L669,236.2 Z M665.4,236.6 L668.9,236.2 M665.5,238.3 L668.9,238" stroke-width="1.3" style="fill:#fff"/>
<path class="s" d="M662.5,243 C662.5,240.8 665,240 667,240 C669,240 671.5,240.8 671.5,243 L671.7,245.5 C671,247.8 669,248.7 667,248.7 C665,248.7 663,247.8 662.3,245.5 Z" style="fill:#fff"/>
<path class="t" d="M662.5,243.5 C664.5,245 669.5,245 671.5,243.5" stroke-width="1"/>
<!-- grommet 2 -->
<path class="s" d="M497,396 C496,394.8 499,394.3 502,395 L504.5,396.5 L505,408.5 C502,410 498.5,409.5 497.5,408 C494.5,405 494,399 497,396 Z" style="fill:#fff"/>
<ellipse class="s" cx="505" cy="402.6" rx="5" ry="6.6" style="fill:#fff"/>
<ellipse class="t" cx="505.3" cy="402.6" rx="2.3" ry="3.3"/>
<!-- part 3 -->
<path class="s" d="M388,492.9 C388.5,490 389,488 390.2,485.9 C391,484.5 392,483.6 393.4,483.1 C395,482.6 396.5,482.6 397.7,482.9 C399.3,483.4 400.5,484.3 401,485.3 C401.6,486.3 401.7,487.2 401.5,488 C400.8,488.9 399.8,489.2 398.8,489.1 C398,488.9 397.6,488 397.2,487.5 C396.5,487.6 395.9,488 395.6,488.6 C395.4,489.6 395.6,490.6 396.1,491.3 C397.6,491.4 399.2,491.3 400.5,491.8 C401.5,492.4 402,493.1 402.1,494 C402.1,495.5 401.5,496.5 400.5,497.2 C399,498 397.5,498.3 396.1,498.3 C394.2,498.3 392.3,498.2 390.7,497.8 C389.3,497.4 388.1,496.9 387.4,496.2 C387.3,495 387.6,494 388,492.9 Z" style="fill:#fff" stroke-width="1.5"/>
<path class="t" d="M392.8,485 C391.5,488 391,492 391.3,497 M394.5,484.5 C393.8,488 393.5,492 393.8,497.8" stroke-width="0.9"/>
<path d="M397,492 C399,491.8 401,492.5 401.6,494 C401.6,496 400,497.5 397.5,497.6 C396.5,496 396.3,493.5 397,492 Z" style="fill:#000"/>
</g>
<!-- RIGHT PARTS -->
<g id="right">
<!-- panel 21 -->
<path class="f" d="M853.6,210 C855,208.5 857,208.5 859,209.2 L1076,284.5 C1077.5,285 1078,286 1078,287.5 L1079,322.5 L1053.3,317 C1051,316.8 1050.3,318.5 1051.2,320.3 C1052,321.8 1053,322.3 1054.5,322.6 L1077,328 L1080.5,368.5 C1080.5,370.5 1079,371 1077.5,370.5 L1020.8,351.2 L849.6,240 L849.6,223 Z"/>
<path class="t" d="M855,214.5 L1075,289.5 L1076,321 M1077.5,331 L1078.5,367 M1054.5,320 L1076,325.5"/>
<circle class="s" cx="1064.2" cy="298" r="2"/>
<g class="t" stroke-width="0.8"><path d="M1024,275 L1027,274 M1032,279 L1035,278 M1040,283 L1042,285 M1047,290 L1049,288 M1041,290 L1043,291 M1045,295 L1047,296 M1071,305 L1073,306 M1066,352 L1068,351"/></g>
<!-- seat back 4 -->
<path class="f" d="M810.3,221.8 C816,220.5 822,220.5 828.7,221 C850,229 870,236 891.6,244 C908,249 924,255 938.8,261.1 C941,260.5 943,260.5 946,261.5 C965,270 985,279 1001.7,286 C1006,288 1007.5,290.5 1008,292.6 C1014,296 1020,298.5 1025.3,300.5 C1029,302.5 1030.8,304 1031,306.5 C1031.6,309 1031.6,311 1031.4,313.1 C1029.5,317 1026.5,320.5 1024.7,324.3 C1022,329.5 1020,335 1019,340.1 C1018.5,343.5 1018.5,346.5 1017.9,349.2 C1016.5,351 1015,352.2 1013.4,353.7 C1011,358 1009,362.5 1006.6,367.2 C1004.3,371.7 1002,376.3 999.8,380.8 C997.5,385.3 995.3,389.8 993.1,394.3 C990.8,398.8 988.6,403.4 986.3,407.9 C984.8,411 983.3,414 981.8,416.9 L979.8,417.1 C976,415 975,414 973,412.3 C969,406 966,401 962.1,398.7 C957,396 952,393.5 948.5,391.9 C942,389 937,387 932.3,385.1 C926,382 921,379.5 916,378.3 C910,377 905,376 899.7,374.3 C895,371.5 890,369 886.1,367.5 C878,365 869,362.5 861.7,360.7 C854,359 846,357 840,355.3 C822,348 805,338 786.7,333.2 C776,333 766,333 757.9,332 C755,330.5 755,328 755.2,326 C756,318 757,310 757.9,309.6 C761,298 764,288 768.4,278.2 C772,266 776,256 781.5,246.7 C786,238 791,232 797.2,228.4 C801,225 805,223 810.3,221.8 Z"/>
<path class="t" d="M820.8,228.4 C836,232 851,237 865.4,241.5"/>
<path class="t" d="M891.6,244 C882,243 875,242.5 870.6,242.8 C866,245 865,249 865.4,255 L865.4,278.2"/>
<path class="t" d="M798.8,255.9 C794,268 790,279 785.9,290.8 C781,304 777,316 773.9,328.6"/>
<path class="t" d="M799.8,255.9 C805,254.5 810,255 815,256.5 C832,262 848,270 865.4,278.2"/>
<path class="t" stroke-width="1" d="M785.9,290.8 Q792,296.5 799.8,296.7 Q805,300 811.7,298.7 Q817.5,305 825.7,305.7 Q831.5,311 839.6,310.7 Q845,315 852.5,314.7"/>
<path class="t" stroke-width="0.95" d="M810.3,258.5 L786.7,333.2 M812.5,259.2 L788.9,333.9 M826,262.4 L799.8,338.5 M828.2,263.1 L802,339.2 M840.5,267.7 L815.5,346.3 M842.7,268.4 L817.7,347 M852.3,273 L828.7,351 M854.5,273.7 L830.9,351.7"/>
<path class="t" d="M865.4,278.2 C862,292 858,306 855,320 C852,330 849,342 842.7,355.3"/>
<path class="t" d="M938.8,261.1 C932,266 927,270 923,275.6 C918,283 915,289 912.6,293.9 C908,303 905,311 902.1,320.1 C898,332 895,343 891,360"/>
<path class="t" d="M944,265 C960,271 980,279 998,286"/>
<path class="t" d="M912.6,293.9 C918,292.5 922,293 928,295.5 C945,301 965,309 983.4,320.1"/>
<path class="t" d="M1001.7,286 C994,286 988,286 983.4,286 C981,289 980.5,292 980.7,296.5 C981,305 982,313 983.4,320.1"/>
<path class="t" stroke-width="0.95" d="M925.7,297.8 L901,377 M927.9,298.5 L903.2,377.5 M941.4,303 L916,378.3 M943.6,303.7 L918.2,379 M954.5,309.6 L933.6,385.1 M956.7,310.3 L935.8,385.8 M967.6,314.9 L948.5,391 M969.8,315.6 L950.7,391.7"/>
<path class="t" stroke-width="1" d="M897.2,329.9 Q906,336.5 912.6,336.3 Q921,337.5 927.1,341.2 Q936,343 942.4,347.1 Q952,348.5 958.7,352.1 Q966,354 971.4,358.9 Q975,360 978.2,359.8"/>

<path class="t" d="M999,297 C1010,299 1018,302 1025,304 M982.8,323 C986,313 992,305 1001.2,296.9 M1030.3,306.3 C1026.5,307.5 1023,309 1020.1,310.8 C1016,314 1012,318 1008.9,322.1 C1006,326.5 1003.8,331 1002.1,335.6 C1000,341.5 998.8,347.5 997.6,353.7 C996.2,359.7 994.6,365.7 993.1,371.7 C991.6,377.7 990,383.8 988.5,389.8 C987,395.8 985.5,401.9 984,407.9 L981.8,416.9 M1030.8,308.5 C1027.5,309.8 1024.6,311.3 1022,313 C1018,316.2 1014.3,320 1011.3,324 C1008.5,328.5 1006.3,333 1004.6,337.6 C1002.5,343.5 1001.2,349.5 1000,355.7 C998.6,361.7 997,367.7 995.5,373.7 C994,379.7 992.4,385.8 990.9,391.8 C989.4,397.8 987.8,403.5 986.2,409.5" stroke-width="1.1"/>

<path class="t" d="M888.8,343 L886.7,378.3"/>
<!-- bracket at bottom -->
<path class="s" d="M884,381 L886.5,374 L893,372 L898,374.5 L896,380 L888,385 Z M760,333 L762,338 L766,338.5 L767,334"/><circle class="t" cx="890" cy="379" r="1.8"/>
<!-- part 6 -->
<path class="t" d="M784.7,248.7 L790.5,249.3 C791.8,250 791.8,251.5 791.3,252.5 L787.6,261 M784.7,248.7 L780.6,258 M786.5,250.5 L782.5,259" stroke-width="1"/>
<path class="s" d="M776.5,260.3 L782.5,258.6 L785.5,261 L785.7,272.8 L782.7,273.5 L776.4,271.6 Z" style="fill:#fff"/>
<path class="t" d="M782.5,258.6 L782.7,273.5" stroke-width="1"/>
<!-- clip 8 (right top) -->
<use href="#clip8" transform="translate(864.9,190.8)"/>
<!-- part 22 -->
<path class="s" d="M906.5,200.5 C911,201.5 915,206.5 915.5,212 C915.8,216.5 913.5,219.5 909.5,219.4 C905.5,219.3 901,216.5 899.8,212.5 C898.8,209 900.5,205 903,202.5 C904,201.2 905.2,200.5 906.5,200.5 Z" style="fill:#fff"/>
<path class="t" d="M908,203.5 C911.5,205.5 913.5,210 913.3,214.5 C913,217.5 911.5,218.5 909.5,218.5"/>
<path class="s" d="M900.5,209.5 C902,208.3 905.5,208 907.5,209.5 C909.5,211.5 909.5,215.5 907.5,216.5 C905,217.3 901.5,216.5 900.2,214.5 Z" style="fill:#fff"/>
<path class="t" d="M902,211 L907,210.8 M901.8,213.5 L907.8,213.5"/>
<!-- bolt 28 -->
<path class="s" d="M928.3,424.5 C929,423 931,422.6 933.3,422.6 C935.6,422.6 937.6,423 938.3,424.5 L938.8,428 L940,429.5 C939.5,432 937,433.5 933.3,433.6 C929.5,433.5 927,432 926.5,429.5 L928,428 Z" style="fill:#fff"/>
<path class="t" d="M928.5,425.5 C931,427 935.5,427 938.3,425.5 M928,428 C931,430 935.5,430 938.8,428 M931,426.5 L931,431 M935.5,426.5 L935.5,431"/>
<path class="s" d="M930.6,433.6 L930.6,442 C931.5,443.8 935.5,443.8 936.6,442 L936.6,433.6" style="fill:#fff"/>
<path class="t" d="M930.6,436.5 L936.6,436.5 M930.6,439.5 L936.6,439.5"/>
<!-- armrest 24 -->
<path class="f" d="M668.5,352.3 C672,351.5 677,351.5 680.8,352.3 C686,354 690,357 691.5,360 C693.5,363 694,365 693.7,366.2 C692.5,369 691,370 690,370.8 C688,373 686,376 683.8,380 C681,385 679,389 677.7,392.3 C675,396 673,399 671.5,401.5 C669,405 667,408 665.4,410.8 C661,418 657,425 653,432.3 C648,441 644,448 640.8,453.8 C637,459 634,461.5 631.5,463 C629,464.5 627,465 625.4,464.6 C622.5,462 621.5,458 622.3,453.8 C624,445 626,438 628.5,432.3 C631,423 634,413 637.7,404.6 C641,395 644,387 647,380 C650,373 653,368 656.2,364.6 C660,359 664,355 668.5,352.3 Z"/>
<path class="t" d="M677.7,353.8 C670,358 664,364 659.2,370.8 C654,380 650,390 647,401.5 C643,412 639,422 634.6,432.3 C631,442 629.5,452 628.5,463"/>
<path class="s" d="M650.5,374 L655,371 L662.3,372.8 L658,381 L653,383 L650.5,389 L645.4,387.5 L648,378 Z M653,383 L648,378 M654,377 L660,378"/>
<!-- clip 8 (mid) -->
<use href="#clip8" transform="translate(705.5,368.3) scale(1.04,1.15)"/>
<!-- bolt 31 (right) -->
<path class="s" d="M727,338.5 C731,335.5 735.5,336 737,339 L737.5,343 C737,346.5 733.5,348.8 729.5,348.5 Z" style="fill:#222"/>
<ellipse class="s" cx="728.4" cy="344" rx="3.2" ry="4.5" style="fill:#fff"/>
<path class="s" d="M737,337.5 L741.5,336.6 C743,337.5 743,341 741.5,341.8 L737.5,342.5 Z" style="fill:#111"/>
</g>
<!-- LABELS -->
<g id="labels">
<path class="one" d="M186.4,117.8 L186.4,105.2 C185.2,107.0 184.0,107.8 182.6,108.3"/>
<path class="one" d="M194.8,117.8 L194.8,105.2 C193.6,107.0 192.4,107.8 191.0,108.3"/>
<path class="one" d="M140.3,171.4 L140.3,158.8 C139.1,160.6 137.9,161.4 136.5,161.9"/>
<text x="141.7" y="171.4">2</text>
<text x="199.2" y="162.6">8</text>
<path class="one" d="M276.9,111.5 L276.9,98.9 C275.7,100.7 274.5,101.5 273.1,102.0"/>
<text x="280.4" y="111.5">9</text>
<text x="407.2" y="128.7">5</text>
<text x="354.2" y="169.9">2</text>
<text x="363.5" y="169.9">7</text>
<path class="one" d="M409.2,183.6 L409.2,171.0 C408.0,172.8 406.8,173.6 405.4,174.1"/>
<text x="413.0" y="183.6">6</text>
<text x="60.5" y="263.7">3</text>
<path class="one" d="M78.0,263.7 L78.0,251.1 C76.8,252.9 75.6,253.7 74.2,254.2"/>
<text x="165.5" y="328.4">3</text>
<path class="one" d="M181.6,328.4 L181.6,315.8 C180.4,317.6 179.2,318.4 177.8,318.9"/>
<text x="627.1" y="29.7">2</text>
<text x="637.7" y="29.7">0</text>
<path class="one" d="M627.7,71.6 L627.7,59.0 C626.5,60.8 625.3,61.6 623.9,62.1"/>
<text x="632.0" y="71.6">8</text>
<text x="721.6" y="65.7">2</text>
<text x="730.0" y="65.7">9</text>
<path class="one" d="M777.8,70.7 L777.8,58.1 C776.6,59.9 775.4,60.7 774.0,61.2"/>
<text x="780.8" y="70.7">7</text>
<text x="557.0" y="112.2">2</text>
<text x="566.0" y="112.2">9</text>
<text x="473.1" y="199.8">3</text>
<text x="482.8" y="199.8">3</text>
<text x="503.2" y="208.4">2</text>
<text x="512.6" y="208.4">5</text>
<text x="491.2" y="244.8">2</text>
<text x="500.6" y="244.8">7</text>
<text x="559.0" y="222.0">3</text>
<text x="569.0" y="222.0">0</text>
<path class="one" d="M621.2,268.2 L621.2,255.6 C620.0,257.4 618.8,258.2 617.4,258.7"/>
<text x="622.5" y="268.2">5</text>
<text x="617.0" y="290.2">3</text>
<text x="626.0" y="290.2">4</text>
<text x="692.0" y="251.2">3</text>
<text x="701.7" y="251.2">2</text>
<text x="856.0" y="110.2">4</text>
<text x="866.7" y="171.7">8</text>
<text x="895.4" y="181.7">2</text>
<text x="905.7" y="181.7">2</text>
<text x="993.5" y="233.2">2</text>
<path class="one" d="M1011.0,233.2 L1011.0,220.6 C1009.8,222.4 1008.6,223.2 1007.2,223.7"/>
<text x="754.3" y="271.8">6</text>
<text x="684.1" y="311.7">2</text>
<text x="693.6" y="311.7">3</text>
<text x="641.5" y="349.8">2</text>
<text x="651.3" y="349.8">4</text>
<text x="708.9" y="354.7">8</text>
<text x="723.0" y="321.0">3</text>
<path class="one" d="M740.0,321.0 L740.0,308.4 C738.8,310.2 737.6,311.0 736.2,311.5"/>
<text x="401.5" y="412.7">7</text>
<text x="496.6" y="447.2">2</text>
<text x="492.6" y="463.7">2</text>
<text x="502.3" y="463.7">6</text>
<path class="one" d="M360.8,396.7 L360.8,384.1 C359.6,385.9 358.4,386.7 357.0,387.2"/>
<text x="365.3" y="396.7">3</text>
<path class="one" d="M232.5,398.2 L232.5,385.6 C231.3,387.4 230.1,388.2 228.7,388.7"/>
<text x="236.6" y="398.2">4</text>
<text x="352.8" y="497.2">3</text>
<text x="946.2" y="445.0">2</text>
<text x="956.2" y="445.0">8</text>
<path class="one" d="M44.4,481.4 L44.4,468.8 C43.2,470.6 42.0,471.4 40.6,471.9"/>
<text x="47.0" y="481.4">0</text>
<path class="one" d="M26.9,491.7 L26.9,479.1 C25.7,480.9 24.5,481.7 23.1,482.2"/>
<text x="36.9" y="525.5">9</text>
</g>
<text x="873.6" y="537.4" textLength="57.6" lengthAdjust="spacingAndGlyphs" style="font-size:12.6px;stroke-width:0.25px">SE03-B4101</text>
<text x="934.4" y="537.7" textLength="7.8" lengthAdjust="spacingAndGlyphs" style="font-size:15.8px;stroke-width:0.4px">C</text>
</svg>
</body></html>
